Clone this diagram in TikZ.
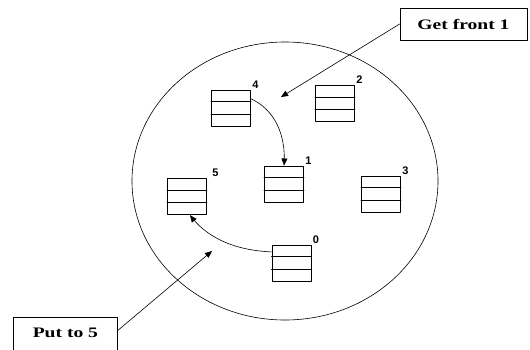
\documentclass[tikz,border=0pt]{standalone}
\usepackage{fontspec}
\usepackage{graphicx}
\newfontfamily\calloutfont{Liberation Serif}
\newfontfamily\numfont{Liberation Sans}
\usetikzlibrary{arrows,calc}

\begin{document}
\begin{tikzpicture}[line cap=round,line join=round,>=triangle 45,x=1pt,y=-1pt,
	qbox/.style={draw,line width=0.9pt,minimum width=39pt,minimum height=36pt,inner sep=0pt},
	qnum/.style={font=\numfont\bfseries\fontsize{11}{13}\selectfont,inner sep=1.2pt},
	callout/.style={draw,line width=0.8pt,font=\calloutfont\bfseries\fontsize{14.5}{16}\selectfont}]
		\useasboundingbox (0,0) rectangle (530,349);
		\clip (0,0) rectangle (530,349);
		% the pool
		\draw [line width=0.6pt] (285,181) ellipse (153 and 139);
		% queues
		\node[qbox,label={[qnum]north east:4}] (q4) at (231,108) {};
		\node[qbox,label={[qnum]north east:2}] (q2) at (335,103.5) {};
		\node[qbox,label={[qnum]north east:1}] (q1) at (284,184) {};
		\node[qbox,label={[qnum,xshift=4pt]north east:5}] (q5) at (187,196.7) {};
		\node[qbox,label={[qnum]north east:3}] (q3) at (381,194) {};
		\node[qbox,label={[qnum]north east:0}] (q0) at (291.5,263) {};
		\foreach \q in {q0,q1,q2,q3,q4,q5}
		{
			\draw [line width=0.9pt] ($(\q.north west)!1/3!(\q.south west)$) -- ($(\q.north east)!1/3!(\q.south east)$);
			\draw [line width=0.9pt] ($(\q.north west)!2/3!(\q.south west)$) -- ($(\q.north east)!2/3!(\q.south east)$);
		}
		% moves between queues
		\draw [->,line width=0.6pt] ($(q4.north east)!0.25!(q4.south east)$) .. controls (275,110) and (286,135) .. (q1.north);
		\draw [->,line width=0.6pt] ($(q0.north west)!0.2!(q0.south west)$) .. controls (230,250) and (205,235) .. ($(q5.south)+(3,0)$);
		% callouts
		\node[callout,minimum width=127pt,minimum height=32pt,inner sep=0pt] (get) at (463.5,24) {\scalebox{1.35}[1]{Get front 1}};
		\node[callout,anchor=north west,minimum width=104pt,inner xsep=0pt,inner ysep=6pt,text height=14pt,text depth=18pt] (put) at (13,317) {\scalebox{1.35}[1]{Put to 5}};
		\coordinate (getend) at (281,97);
		\coordinate (putend) at (212,251);
		\draw [->,line width=0.6pt] (get.west) -- (getend);
		\draw [->,line width=0.6pt] ($(put.north east)!0.3!(put.south east)$) -- (putend);
\end{tikzpicture}
\end{document}
